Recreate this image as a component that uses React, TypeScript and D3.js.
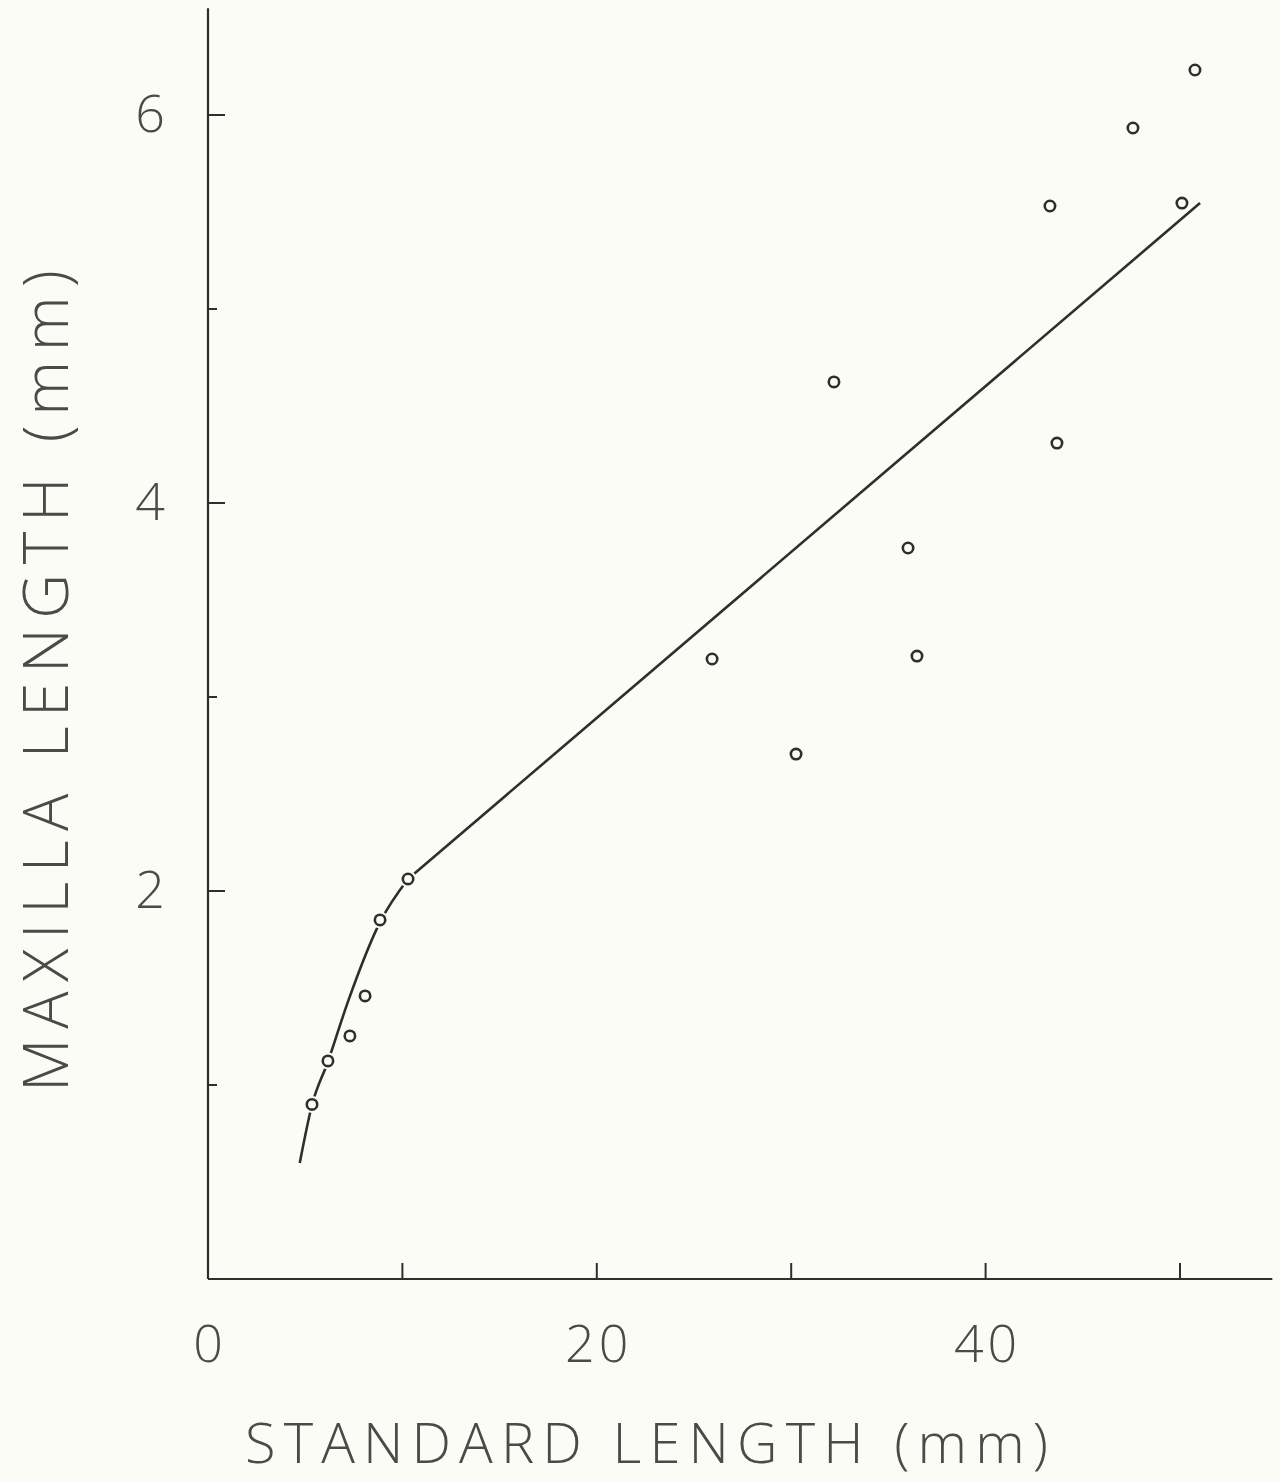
import React from "react";
import * as d3 from "d3";

// Observed specimens: standard length (mm) vs maxilla length (mm)
const standardLength = [5.35, 6.17, 7.3, 8.08, 8.85, 10.29, 25.93, 30.25, 32.2, 36.01, 36.47, 43.31, 43.67, 47.58, 50.1, 50.77];
const maxillaLength = [0.9, 1.124, 1.253, 1.459, 1.851, 2.062, 3.196, 2.706, 4.624, 3.768, 3.211, 5.531, 4.309, 5.933, 5.546, 6.232];

// Fitted growth curve (curved juvenile part) and straight adult part
const fitCurveX = [4.72, 5.35, 6.17, 7.2, 8.85, 10.29];
const fitCurveY = [0.598, 0.897, 1.12, 1.43, 1.84, 2.062];
const fitLineX = [10.29, 51.03];
const fitLineY = [2.062, 5.546];

const xTickValues = [10, 20, 30, 40, 50];
const xTickLabels = [0, 20, 40];
const yMajorTicks = [2, 4, 6];
const yMinorTicks = [1, 3, 5];
const yTickLabels = [2, 4, 6];

const xTitle = "STANDARD LENGTH (mm)";
const yTitle = "MAXILLA LENGTH (mm)";

const xAxisMax = 54.75;
const yAxisMax = 6.55;

export default function App() {
  const W = 1280;
  const H = 1482;
  const x = d3.scaleLinear().domain([0, 50]).range([208, 1180]);
  const y = d3.scaleLinear().domain([0, 6]).range([1279, 115]);
  const ink = "#2e2e2e";
  const textInk = "#4a4a4a";
  const bg = "#fcfcf7";
  const font = "'Open Sans', 'Liberation Sans', sans-serif";

  const curveGen = d3
    .line<number>()
    .x((_, i) => x(fitCurveX[i]))
    .y((_, i) => y(fitCurveY[i]))
    .curve(d3.curveMonotoneX);
  const lineGen = d3
    .line<number>()
    .x((_, i) => x(fitLineX[i]))
    .y((_, i) => y(fitLineY[i]));

  const x0 = x(0);
  const y0 = y(0);

  return (
    <svg
      width={W}
      height={H}
      style={{ position: "absolute", left: 0, top: 0, background: bg }}
    >
      <rect x={0} y={0} width={W} height={H} fill={bg} />
      {/* axes */}
      <line x1={x0} y1={y0} x2={x(xAxisMax)} y2={y0} stroke={ink} strokeWidth={2.2} />
      <line x1={x0} y1={y0} x2={x0} y2={y(yAxisMax)} stroke={ink} strokeWidth={2.2} />
      {xTickValues.map((v) => (
        <line key={"xt" + v} x1={x(v)} x2={x(v)} y1={y0} y2={y0 - 16} stroke={ink} strokeWidth={2} />
      ))}
      {yMajorTicks.map((v) => (
        <line key={"ytM" + v} x1={x0} x2={x0 + 17} y1={y(v)} y2={y(v)} stroke={ink} strokeWidth={2} />
      ))}
      {yMinorTicks.map((v) => (
        <line key={"ytm" + v} x1={x0} x2={x0 + 9} y1={y(v)} y2={y(v)} stroke={ink} strokeWidth={2} />
      ))}
      {xTickLabels.map((v) => (
        <text
          key={"xl" + v}
          x={x(v) + 2}
          y={1362}
          textAnchor="middle"
          fontFamily={font}
          fontWeight={300}
          fontSize={52}
          fill={textInk}
          letterSpacing={4}
        >
          {v}
        </text>
      ))}
      {yTickLabels.map((v) => (
        <text
          key={"yl" + v}
          x={150}
          y={y(v) + 17}
          textAnchor="middle"
          fontFamily={font}
          fontWeight={300}
          fontSize={52}
          fill={textInk}
        >
          {v}
        </text>
      ))}
      {/* titles */}
      <text
        x={245}
        y={1463}
        fontFamily={font}
        fontWeight={300}
        fontSize={56}
        fill={textInk}
        textLength={803}
        lengthAdjust="spacing"
      >
        {xTitle}
      </text>
      <text
        transform="translate(68,1092) rotate(-90)"
        x={0}
        y={0}
        fontFamily={font}
        fontWeight={300}
        fontSize={62}
        fill={textInk}
        textLength={822}
        lengthAdjust="spacing"
      >
        {yTitle}
      </text>
      {/* fitted line */}
      <path d={curveGen(fitCurveX) || ""} fill="none" stroke={ink} strokeWidth={2.6} />
      <path d={lineGen(fitLineX) || ""} fill="none" stroke={ink} strokeWidth={2.6} />
      {/* halos that break the line at each point */}
      {standardLength.map((v, i) => (
        <circle key={"h" + i} cx={x(v)} cy={y(maxillaLength[i])} r={8.5} fill={bg} />
      ))}
      {standardLength.map((v, i) => (
        <circle
          key={"p" + i}
          cx={x(v)}
          cy={y(maxillaLength[i])}
          r={5.2}
          fill="none"
          stroke={ink}
          strokeWidth={2.6}
        />
      ))}
    </svg>
  );
}
